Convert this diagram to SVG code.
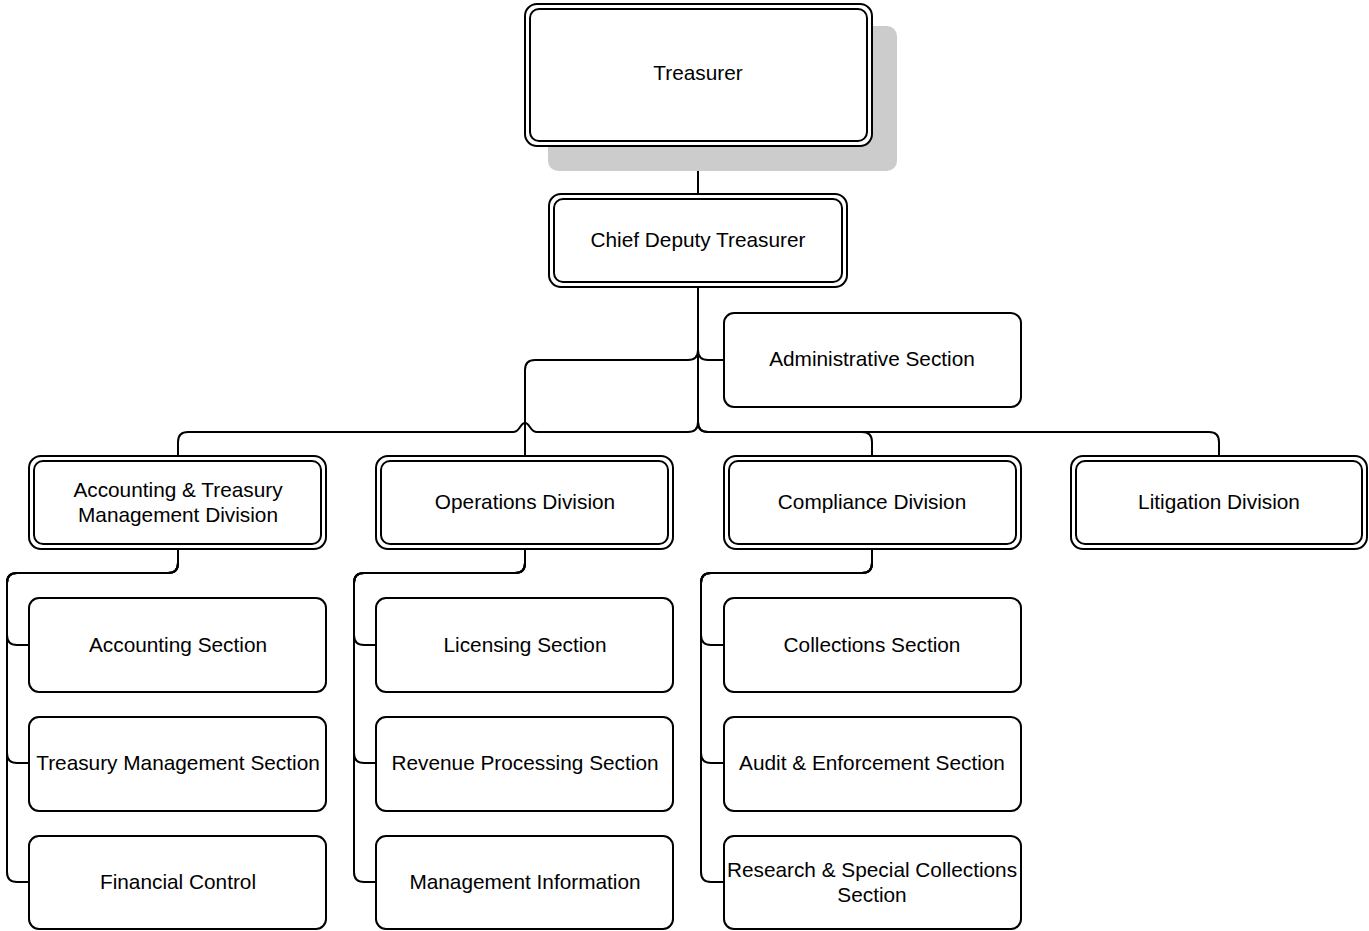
<svg xmlns="http://www.w3.org/2000/svg" width="1369" height="931" viewBox="0 0 1369 931">
<style>
.box{fill:#fff;stroke:#000;stroke-width:2}
.in{fill:none;stroke:#000;stroke-width:2}
.sh{fill:#cccccc;stroke:none}
.c{fill:none;stroke:#000;stroke-width:2}
text{font-family:"Liberation Sans",Arial,sans-serif;font-size:20.8px;fill:#000;text-anchor:middle}
</style>
<rect width="1369" height="931" fill="#fff"/>
<g id="connectors">
<path class="c" d="M698,147 V194"/>
<path class="c" d="M698,288 V350 Q698,360 688,360 H535 Q525,360 525,370 V456"/>
<path class="c" d="M698,288 V350 Q698,360 708,360 H724"/>
<path class="c" d="M698,288 V422 Q698,432 688,432 H537 C530,432 530,423 525,423 C520,423 520,432 513,432 H188 Q178,432 178,442 V456"/>
<path class="c" d="M698,288 V422 Q698,432 708,432 H862 Q872,432 872,442 V456"/>
<path class="c" d="M698,288 V422 Q698,432 708,432 H1209 Q1219,432 1219,442 V455"/>
<path class="c" d="M178,550 V563 Q178,573 168,573 H17 Q7,573 7,583 V635 Q7,645 17,645 H29"/>
<path class="c" d="M178,550 V563 Q178,573 168,573 H17 Q7,573 7,583 V753 Q7,763 17,763 H29"/>
<path class="c" d="M178,550 V563 Q178,573 168,573 H17 Q7,573 7,583 V872 Q7,882 17,882 H29"/>
<path class="c" d="M525,550 V563 Q525,573 515,573 H364 Q354,573 354,583 V635 Q354,645 364,645 H376"/>
<path class="c" d="M525,550 V563 Q525,573 515,573 H364 Q354,573 354,583 V753 Q354,763 364,763 H376"/>
<path class="c" d="M525,550 V563 Q525,573 515,573 H364 Q354,573 354,583 V872 Q354,882 364,882 H376"/>
<path class="c" d="M872,550 V563 Q872,573 862,573 H711 Q701,573 701,583 V635 Q701,645 711,645 H724"/>
<path class="c" d="M872,550 V563 Q872,573 862,573 H711 Q701,573 701,583 V753 Q701,763 711,763 H724"/>
<path class="c" d="M872,550 V563 Q872,573 862,573 H711 Q701,573 701,583 V872 Q701,882 711,882 H724"/>
</g>
<g id="treasurer">
<rect class="sh" x="548" y="26" width="349" height="145" rx="10"/>
<rect class="box" x="525" y="4" width="347" height="142" rx="12"/>
<rect class="in" x="530" y="9" width="337" height="132" rx="9"/>
<text x="698" y="80">Treasurer</text>
</g>
<g id="chief-deputy">
<rect class="box" x="549" y="194" width="298" height="93" rx="12"/>
<rect class="in" x="554" y="199" width="288" height="83" rx="9"/>
<text x="698" y="247">Chief Deputy Treasurer</text>
</g>
<g id="administrative">
<rect class="box" x="724" y="313" width="297" height="94" rx="10"/>
<text x="872" y="366">Administrative Section</text>
</g>
<g id="accounting-division">
<rect class="box" x="29" y="456" width="297" height="93" rx="12"/>
<rect class="in" x="34" y="461" width="287" height="83" rx="9"/>
<text x="178" y="497">Accounting &amp; Treasury</text>
<text x="178" y="522">Management Division</text>
</g>
<g id="operations-division">
<rect class="box" x="376" y="456" width="297" height="93" rx="12"/>
<rect class="in" x="381" y="461" width="287" height="83" rx="9"/>
<text x="525" y="509">Operations Division</text>
</g>
<g id="compliance-division">
<rect class="box" x="724" y="456" width="297" height="93" rx="12"/>
<rect class="in" x="729" y="461" width="287" height="83" rx="9"/>
<text x="872" y="509">Compliance Division</text>
</g>
<g id="litigation-division">
<rect class="box" x="1071" y="456" width="296" height="93" rx="12"/>
<rect class="in" x="1076" y="461" width="286" height="83" rx="9"/>
<text x="1219" y="509">Litigation Division</text>
</g>
<g id="accounting-section">
<rect class="box" x="29" y="598" width="297" height="94" rx="10"/>
<text x="178" y="652">Accounting Section</text>
</g>
<g id="treasury-management-section">
<rect class="box" x="29" y="717" width="297" height="94" rx="10"/>
<text x="178" y="770">Treasury Management Section</text>
</g>
<g id="financial-control">
<rect class="box" x="29" y="836" width="297" height="93" rx="10"/>
<text x="178" y="889">Financial Control</text>
</g>
<g id="licensing-section">
<rect class="box" x="376" y="598" width="297" height="94" rx="10"/>
<text x="525" y="652">Licensing Section</text>
</g>
<g id="revenue-processing-section">
<rect class="box" x="376" y="717" width="297" height="94" rx="10"/>
<text x="525" y="770">Revenue Processing Section</text>
</g>
<g id="management-information">
<rect class="box" x="376" y="836" width="297" height="93" rx="10"/>
<text x="525" y="889">Management Information</text>
</g>
<g id="collections-section">
<rect class="box" x="724" y="598" width="297" height="94" rx="10"/>
<text x="872" y="652">Collections Section</text>
</g>
<g id="audit-enforcement-section">
<rect class="box" x="724" y="717" width="297" height="94" rx="10"/>
<text x="872" y="770">Audit &amp; Enforcement Section</text>
</g>
<g id="research-special-collections-section">
<rect class="box" x="724" y="836" width="297" height="93" rx="10"/>
<text x="872" y="877">Research &amp; Special Collections</text>
<text x="872" y="902">Section</text>
</g>
</svg>
